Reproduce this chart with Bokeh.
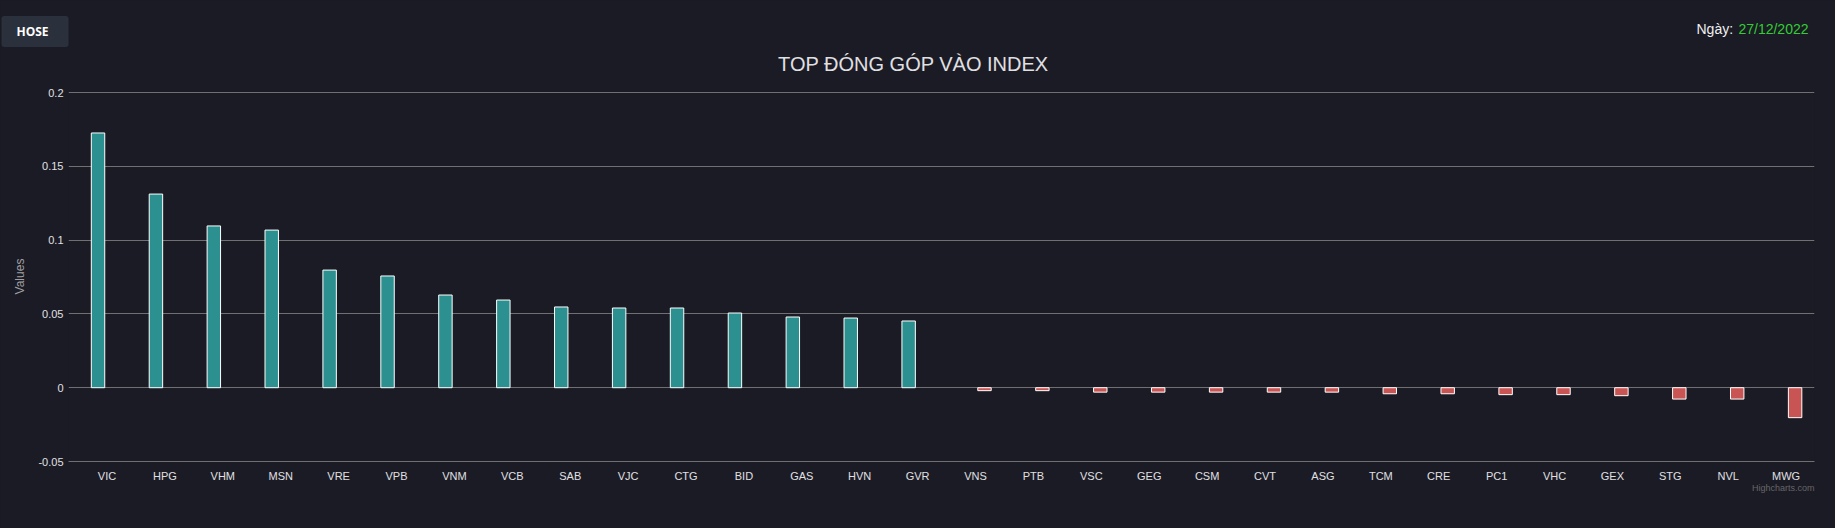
from bokeh.plotting import figure
from bokeh.models import Range1d, FixedTicker, Label, ColumnDataSource, CustomJSTickFormatter
from bokeh.transform import dodge
from bokeh.embed import file_html
from bokeh.resources import INLINE

# ---------------- data ----------------
categories = ["VIC", "HPG", "VHM", "MSN", "VRE", "VPB", "VNM", "VCB", "SAB", "VJC",
              "CTG", "BID", "GAS", "HVN", "GVR", "VNS", "PTB", "VSC", "GEG", "CSM",
              "CVT", "ASG", "TCM", "CRE", "PC1", "VHC", "GEX", "STG", "NVL", "MWG"]
positive_names = categories[:15]
positive_values = [0.1726, 0.1312, 0.1096, 0.1068, 0.0797, 0.0757, 0.0628, 0.0594,
                   0.0547, 0.0540, 0.0540, 0.0506, 0.0479, 0.0472, 0.0452]
negative_names = categories[15:]
negative_values = [-0.0020, -0.0020, -0.0030, -0.0030, -0.0030, -0.0030, -0.0030,
                   -0.0041, -0.0041, -0.0047, -0.0047, -0.0054, -0.0077, -0.0077, -0.0203]
y_ticks = [-0.05, 0, 0.05, 0.1, 0.15, 0.2]
y_tick_labels = ["-0.05", "0", "0.05", "0.1", "0.15", "0.2"]
title_text = "TOP ĐÓNG GÓP VÀO INDEX"
date_prefix = "Ngày: "
date_text = "27/12/2022"
exchange_text = "HOSE"
y_title = "Values"
credits_text = "Highcharts.com"

# ---------------- style ----------------
BG = "#1b1b25"
GRID = "#707073"
TXT = "#e0e0e3"
TEAL = "#2b908f"
RED = "#c85454"
FONT = "Liberation Sans"

W, H = 1835, 528
X0, X1 = -0.665, 29.49
Y0, Y1 = -0.05, 0.2007
FRAME_LEFT, FRAME_TOP = 68, 91
p = figure(width=W, height=H, output_backend="svg", toolbar_location=None,
           x_range=Range1d(X0, X1), y_range=Range1d(Y0, Y1),
           min_border_left=FRAME_LEFT, min_border_right=21, min_border_top=FRAME_TOP,
           min_border_bottom=67)
p.title = None
p.background_fill_color = BG
p.border_fill_color = BG
p.outline_line_color = None

pos_idx = [categories.index(n) for n in positive_names]
neg_idx = [categories.index(n) for n in negative_names]
pos_src = ColumnDataSource(dict(x=pos_idx, top=positive_values, name=positive_names))
neg_src = ColumnDataSource(dict(x=neg_idx, top=negative_values, name=negative_names))

p.vbar(x=dodge("x", -0.155, range=p.x_range), top="top", bottom=0, width=0.232,
       source=pos_src, fill_color=TEAL, line_color="white", line_width=1)
p.vbar(x=dodge("x", 0.155, range=p.x_range), top="top", bottom=0, width=0.232,
       source=neg_src, fill_color=RED, line_color="white", line_width=1)

# grid
p.xgrid.grid_line_color = None
p.ygrid.grid_line_color = GRID
p.ygrid.grid_line_width = 1
p.yaxis.ticker = FixedTicker(ticks=y_ticks)
p.xaxis.ticker = FixedTicker(ticks=list(range(len(categories))))

p.yaxis.formatter = CustomJSTickFormatter(args=dict(yvals=y_ticks, ylabels=y_tick_labels), code="""
const i = yvals.findIndex(t => Math.abs(t - tick) < 1e-9);
return i >= 0 ? ylabels[i] : '';
""")
p.xaxis.formatter = CustomJSTickFormatter(args=dict(cats=categories), code="""
const i = Math.round(tick);
return (i >= 0 && i < cats.length) ? cats[i] : '';
""")

for ax in (p.xaxis[0], p.yaxis[0]):
    ax.major_tick_line_color = None
    ax.minor_tick_line_color = None
    ax.major_tick_out = 0
    ax.major_tick_in = 0
    ax.major_label_text_color = TXT
    ax.major_label_text_font = FONT
    ax.major_label_text_font_size = "11px"

p.yaxis.axis_line_color = None
p.yaxis.major_label_standoff = 5
p.yaxis.axis_label = y_title
p.yaxis.axis_label_text_color = "#a0a0a3"
p.yaxis.axis_label_text_font = FONT
p.yaxis.axis_label_text_font_size = "12px"
p.yaxis.axis_label_text_font_style = "normal"
p.yaxis.axis_label_standoff = 8

p.xaxis.axis_line_color = GRID
p.xaxis.major_label_standoff = 8


# Page-level texts: anchored at the frame's top-left corner (data X0, Y1) and
# shifted in screen pixels, placed in side panels so they are not clipped.
def page_label(px, py, side, **kw):
    lab = Label(x=X0, y=Y1, x_units="data", y_units="data",
                x_offset=px - FRAME_LEFT, y_offset=FRAME_TOP - py, **kw)
    p.add_layout(lab, side)
    return lab


page_label(913, 63.5, "above", text=title_text, text_align="center", text_baseline="middle",
           text_color=TXT, text_font=FONT, text_font_size="20px")
page_label(1, 31, "above", text=exchange_text, text_align="left", text_baseline="middle",
           text_color="#ffffff", text_font="Open Sans", text_font_size="12px",
           text_font_style="bold", background_fill_color="#2b313c",
           padding=dict(left=15, right=20, top=7, bottom=7), border_radius=3)
page_label(1696, 28, "above", text=date_prefix, text_align="left", text_baseline="middle",
           text_color="#f0f0f0", text_font=FONT, text_font_size="14px")
page_label(1808, 28, "below", text=date_text, text_align="right", text_baseline="middle",
           text_color="#33cc33", text_font=FONT, text_font_size="14px")
page_label(1814, 487, "below", text=credits_text, text_align="right", text_baseline="middle",
           text_color="#666666", text_font=FONT, text_font_size="9px")

html = file_html(p, INLINE)
style = "<style>html,body{margin:0;padding:0;background:%s;overflow:hidden;}</style>" % BG
if "<head>" in html:
    html = html.replace("<head>", "<head>" + style, 1)
else:
    html = style + html
open("out.html", "w").write(html)
